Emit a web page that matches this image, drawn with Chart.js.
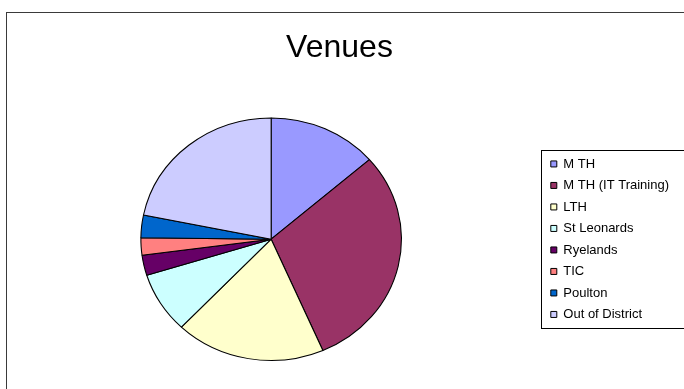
<!DOCTYPE html>
<html>
<head>
<meta charset="utf-8">
<script src="https://cdn.jsdelivr.net/npm/chart.js@4/dist/chart.umd.min.js"></script>
<style>
  html, body { margin: 0; padding: 0; background: #fff; overflow: hidden; }
  #wrap { position: absolute; left: 0; top: 0; width: 684px; height: 389px; }
</style>
</head>
<body>
<div id="wrap"><canvas id="chartCanvas" width="684" height="389"></canvas></div>
<script>
// venue labels and their share (percent)
const venues = ['M TH', 'M TH (IT Training)', 'LTH', 'St Leonards', 'Ryelands', 'TIC', 'Poulton', 'Out of District'];
const shares = [13.6, 29.9, 18.6, 8.1, 2.7, 2.3, 3.0, 21.8];
const sliceColours = ['#9999FF', '#993366', '#FFFFCC', '#CCFFFF', '#660066', '#FF8080', '#0066CC', '#CCCCFF'];

// outer frame of the old chart object
const framePlugin = {
    id: 'frame',
    beforeDraw(chart) {
        const c = chart.ctx;
        c.save();
        c.strokeStyle = '#3a3a3a';
        c.lineWidth = 1;
        c.strokeRect(6.5, 12.5, 720, 420);
        c.restore();
    }
};

// the pie in the picture is a bit wider than tall, so stretch it sideways
const stretchPlugin = {
    id: 'stretch',
    beforeDatasetsDraw(chart) {
        const arc = chart.getDatasetMeta(0).data[0];
        const c = chart.ctx;
        c.save();
        c.translate(arc.x, arc.y);
        c.scale(1.074, 1);
        c.translate(-arc.x, -arc.y);
    },
    afterDatasetsDraw(chart) {
        chart.ctx.restore();
    }
};

// box round the legend items
const legendBoxPlugin = {
    id: 'legendBox',
    afterDraw(chart) {
        const boxes = chart.legend.legendHitBoxes;
        if (!boxes || !boxes.length) return;
        const first = boxes[0];
        const last = boxes[boxes.length - 1];
        const c = chart.ctx;
        c.save();
        c.strokeStyle = '#000';
        c.lineWidth = 1;
        const top = Math.round(first.top - 7) + 0.5;
        const bottom = Math.round(last.top + last.height + 7) + 0.5;
        c.strokeRect(541.5, top, 300, bottom - top);
        c.restore();
    }
};

const ctx = document.getElementById('chartCanvas');
new Chart(ctx, {
    type: 'pie',
    data: {
        labels: venues,
        datasets: [{
            data: shares,
            backgroundColor: sliceColours,
            borderColor: '#000',
            borderWidth: 1
        }]
    },
    options: {
        responsive: false,
        animation: false,
        layout: {
            padding: { left: 0, right: 5, top: 0, bottom: 28 }
        },
        plugins: {
            title: {
                display: true,
                text: 'Venues',
                color: '#000',
                font: { family: 'Liberation Sans, Arial, sans-serif', size: 32, weight: 'normal' },
                padding: { top: 29, bottom: 50 }
            },
            legend: {
                position: 'right',
                align: 'center',
                fullSize: false,
                labels: {
                    color: '#000',
                    boxWidth: 6,
                    boxHeight: 6,
                    padding: 8.5,
                    font: { family: 'Liberation Sans, Arial, sans-serif', size: 13 }
                }
            },
            tooltip: { enabled: false }
        }
    },
    plugins: [framePlugin, stretchPlugin, legendBoxPlugin]
});
</script>
</body>
</html>
